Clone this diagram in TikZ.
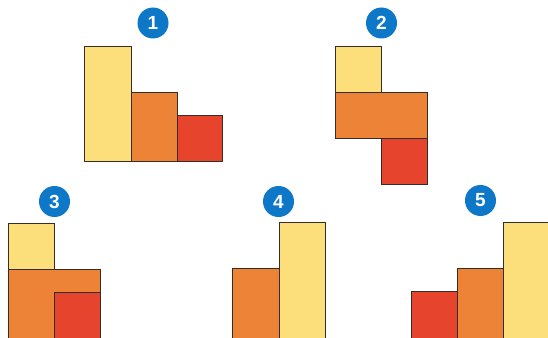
\documentclass[tikz,border=0pt]{standalone}
\usepackage{fontspec}
\setmainfont{Liberation Sans}
\definecolor{cyel}{RGB}{252,222,122}
\definecolor{cora}{RGB}{237,131,55}
\definecolor{cred}{RGB}{231,68,46}
\definecolor{cblue}{RGB}{14,120,200}
\definecolor{cedge}{RGB}{55,45,40}
\tikzset{
  blk/.style={draw=cedge, line width=0.9pt},
  yelbox/.style={blk, fill=cyel},
  orabox/.style={blk, fill=cora},
  redbox/.style={blk, fill=cred},
  badge/.style={circle, fill=cblue, text=white, minimum size=31pt, inner sep=0pt, font=\fontsize{19}{19}\selectfont\bfseries}
}
\begin{document}
\begin{tikzpicture}[x=1pt,y=-1pt]
\useasboundingbox (0,0) rectangle (548,337);
\clip (0,0) rectangle (548,337);
% figure 1
\node[badge] (b1) at (153,23) {1};
\draw[yelbox] (84.5,46) rectangle (131,161.5);
\draw[orabox] (131,92) rectangle (177,161.5);
\draw[redbox] (177,115) rectangle (222.5,161.5);
% figure 2
\node[badge] (b2) at (381.5,23) {2};
\draw[yelbox] (335.5,46.5) rectangle (381.5,92);
\draw[orabox] (335.5,92) rectangle (427.5,138);
\draw[redbox] (381.5,138) rectangle (427.5,184.5);
% figure 3
\node[badge] (b3) at (54.5,201.5) {3};
\draw[yelbox] (8.5,223.5) rectangle (54.5,269.5);
\draw[orabox] (8.5,269.5) rectangle (100,345);
\draw[redbox] (54.5,292.5) rectangle (100,345);
% figure 4
\node[badge] (b4) at (278.5,201.5) {4};
\draw[orabox] (232.5,268.5) rectangle (279,345);
\draw[yelbox] (279,222.5) rectangle (325,345);
% figure 5
\node[badge] (b5) at (480.5,200.5) {5};
\draw[redbox] (411,291) rectangle (457.5,345);
\draw[orabox] (457.5,268.5) rectangle (503.5,345);
\draw[yelbox] (503.5,222.5) rectangle (560,345);
\end{tikzpicture}
\end{document}
